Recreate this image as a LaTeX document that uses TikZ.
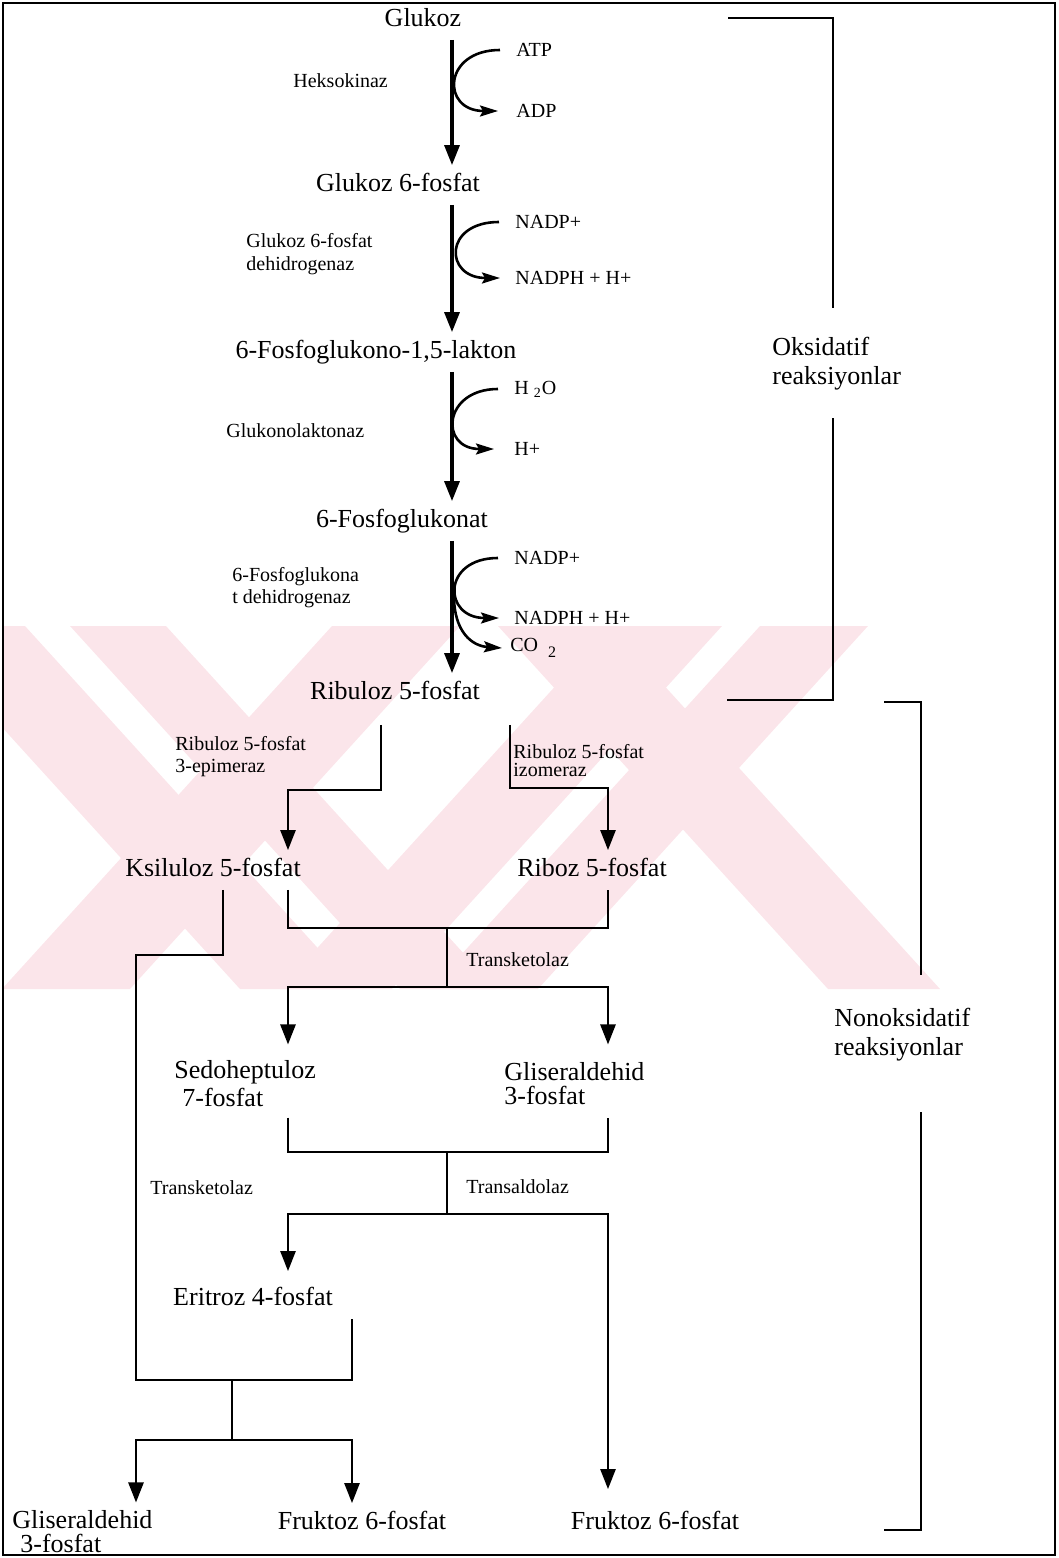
\documentclass[tikz,border=0pt]{standalone}
\usepackage{fontspec}
\setmainfont{Liberation Serif}
\usepackage{tikz}
\usetikzlibrary{positioning,arrows.meta}
\definecolor{wmpink}{RGB}{251,229,234}

\begin{document}
\begin{tikzpicture}[
    x=0.5pt, y=-0.5pt,
    met/.style={font=\fontsize{13}{14}\selectfont, text height=9pt, text depth=2.5pt, inner sep=4pt}, % metabolites
    metm/.style={font=\fontsize{13}{14}\selectfont, align=left, anchor=west, inner sep=0pt},  % two-line metabolites
    enz/.style={font=\fontsize{10}{11.5}\selectfont, align=left, anchor=west, inner sep=0pt}, % enzyme labels
    cof/.style={font=\fontsize{10}{12}\selectfont, anchor=west, inner sep=0pt},               % cofactors
    grp/.style={font=\fontsize{13}{14.5}\selectfont, align=left, anchor=west, inner sep=0pt}, % bracket labels
    main/.style={line width=1.6pt, -{Triangle[length=10pt, width=7.5pt]}},                    % main reaction arrows
    conn/.style={line width=1.3pt},                                                           % connector lines
    arr/.style={conn, -{Triangle[length=10pt, width=7.5pt]}},                                 % connector with head
    curv/.style={line width=1.3pt, -{Stealth[length=9pt, width=5.5pt, inset=1.5pt]}},         % cofactor curves
    brk/.style={line width=1.2pt}                                                             % brackets
    ]

    \useasboundingbox (0,0) rectangle (1059,1558);

    % watermark in the background
    \begin{scope}
    \clip (4,626) rectangle (1000,989);
    \fill[wmpink] (70,626) -- (166,626) -- (496,989) -- (400,989) -- cycle;
    \fill[wmpink] (-90,626) -- (25,626) -- (355,989) -- (240,989) -- cycle;
    \fill[wmpink] (332,626) -- (460,626) -- (130,989) -- (2,989) -- cycle;
    \fill[wmpink] (498,626) -- (610,626) -- (940,989) -- (828,989) -- cycle;
    \fill[wmpink] (610,626) -- (722,626) -- (392,989) -- (280,989) -- cycle;
    \fill[wmpink] (760,626) -- (868,626) -- (538,989) -- (430,989) -- cycle;
    \end{scope}

    % frame
    \draw[line width=1.1pt] (3,3) rectangle (1055,1555);

    % metabolites
    \node[met] (glu) at (423,20) {Glukoz};
    \node[met] (g6p) at (398,185) {Glukoz 6-fosfat};
    \node[met] (lak) at (376,352) {6-Fosfoglukono-1,5-lakton};
    \node[met] (pgl) at (402,521) {6-Fosfoglukonat};
    \node[met] (rul) at (395,693) {Ribuloz 5-fosfat};
    \node[met] (ksi) at (213,870) {Ksiluloz 5-fosfat};
    \node[met] (rib) at (592,870) {Riboz 5-fosfat};
    \node[metm] (sed) at (174,1084) {Sedoheptuloz\\\hspace*{4pt}7-fosfat};
    \node[metm, font=\fontsize{13}{12}\selectfont] (gap) at (504,1084) {Gliseraldehid\\3-fosfat};
    \node[met] (eri) at (253,1299) {Eritroz 4-fosfat};
    \node[metm, font=\fontsize{13}{12}\selectfont] (gapb) at (12,1532) {Gliseraldehid\\\hspace*{4pt}3-fosfat};
    \node[met] (frua) at (362,1523) {Fruktoz 6-fosfat};
    \node[met] (frub) at (655,1523) {Fruktoz 6-fosfat};

    % enzymes
    \node[enz] (hek) at (293,81) {Heksokinaz};
    \node[enz] (g6pd) at (246,254) {Glukoz 6-fosfat\\dehidrogenaz};
    \node[enz] (glk) at (226,431) {Glukonolaktonaz};
    \node[enz, font=\fontsize{10}{11}\selectfont] (pgd) at (232,588) {6-Fosfoglukona\\t dehidrogenaz};
    \node[enz, font=\fontsize{10}{11}\selectfont] (epi) at (175,757) {Ribuloz 5-fosfat\\3-epimeraz};
    \node[enz, font=\fontsize{10}{9}\selectfont] (izo) at (513,761) {Ribuloz 5-fosfat\\izomeraz};
    \node[enz] (tka) at (466,960) {Transketolaz};
    \node[enz] (tkb) at (150,1188) {Transketolaz};
    \node[enz] (tal) at (466,1187) {Transaldolaz};

    % cofactors
    \node[cof] (atp) at (516,50) {ATP};
    \node[cof, below=30.5pt of atp.west, anchor=west] (adp) {ADP};
    \node[cof] (nadpa) at (515,222) {NADP+};
    \node[cof, below=28pt of nadpa.west, anchor=west] (nadpha) {NADPH + H+};
    \node[cof] (hho) at (514,389) {H \textsubscript{2}O};
    \node[cof, below=30pt of hho.west, anchor=west] (hpl) {H+};
    \node[cof] (nadpb) at (514,558) {NADP+};
    \node[cof, below=30pt of nadpb.west, anchor=west] (nadphb) {NADPH + H+};
    \node[cof, below=15pt of nadphb.west, anchor=west, xshift=-2pt] (co) {CO\hspace{5pt}\raisebox{-3pt}{\fontsize{8}{8}\selectfont 2}};

    % bracket labels
    \node[grp] (oks) at (772,364) {Oksidatif\\reaksiyonlar};
    \node[grp] (non) at (834,1035) {Nonoksidatif\\reaksiyonlar};

    % main line
    \coordinate (cM) at (452,0);
    \draw[main] (glu.south -| cM) -- (g6p.north -| cM);
    \draw[main] (g6p.south -| cM) -- (lak.north -| cM);
    \draw[main] (lak.south -| cM) -- (pgl.north -| cM);
    \draw[main] (pgl.south -| cM) -- (rul.north -| cM);

    % cofactor curves
    \draw[curv] ([xshift=-8pt]atp.west) to[out=180, in=180, looseness=2.4] ([xshift=-9pt]adp.west);
    \draw[curv] ([xshift=-8pt]nadpa.west) to[out=180, in=180, looseness=2.55] ([xshift=-7.5pt]nadpha.west);
    \draw[curv] ([xshift=-8pt]hho.west) to[out=180, in=180, looseness=2.35] ([xshift=-10pt]hpl.west);
    \draw[curv] ([xshift=-8pt]nadpb.west) to[out=180, in=180, looseness=2.4] ([xshift=-7.5pt]nadphb.west);
    \coordinate (cc) at (454,596);
    \draw[curv] (cc) .. controls (454,632) and (472,646) .. ([xshift=-4pt]co.west);

    % isomerisation steps
    \coordinate (cA) at (381,790);
    \coordinate (cB) at (510,788);
    \coordinate (cK) at (288,0);
    \coordinate (cR) at (608,0);
    \draw[arr, shorten <=6pt] (rul.south -| cA) -- (cA) -| (ksi.north -| cK);
    \draw[arr, shorten <=6pt] (rul.south -| cB) -- (cB) -| (rib.north -| cR);

    % transketolase
    \coordinate (ta) at (447,928);
    \coordinate (tb) at (447,987);
    \draw[conn] (ksi.south -| cK) -- (cK |- ta) -- (cR |- ta) -- (rib.south -| cR);
    \draw[conn] (ta) -- (tb);
    \draw[arr, shorten >=8pt] (tb) -| (sed.north -| cK);
    \draw[arr, shorten >=9pt] (tb) -| (gap.north -| cR);

    % transaldolase
    \coordinate (tc) at (447,1152);
    \coordinate (td) at (447,1214);
    \draw[conn, shorten <=5pt, shorten >=6pt] (sed.south -| cK) -- (cK |- tc) -- (cR |- tc) -- (gap.south -| cR);
    \draw[conn] (tc) -- (td);
    \draw[arr, shorten >=4pt] (td) -| (eri.north -| cK);
    \draw[arr, shorten >=7pt] (td) -| (frub.north -| cR);

    % second transketolase
    \coordinate (cX) at (223,955);
    \coordinate (cL) at (136,0);
    \coordinate (cE) at (352,0);
    \coordinate (te) at (232,1380);
    \coordinate (tf) at (232,1440);
    \draw[conn] (ksi.south -| cX) -- (cX) -| (cL |- te) -- (te -| cE) -- (eri.south -| cE);
    \draw[conn] (te) -- (tf);
    \draw[arr, shorten >=4pt] (tf) -| (gapb.north -| cL);
    \draw[arr] (tf) -| (frua.north -| cE);

    % brackets
    \draw[brk] (728,18) -- (833,18) -- (833,308);
    \draw[brk] (833,418) -- (833,700) -- (727,700);
    \draw[brk] (884,702) -- (921,702) -- (921,975);
    \draw[brk] (921,1112) -- (921,1530) -- (884,1530);

\end{tikzpicture}
\end{document}
